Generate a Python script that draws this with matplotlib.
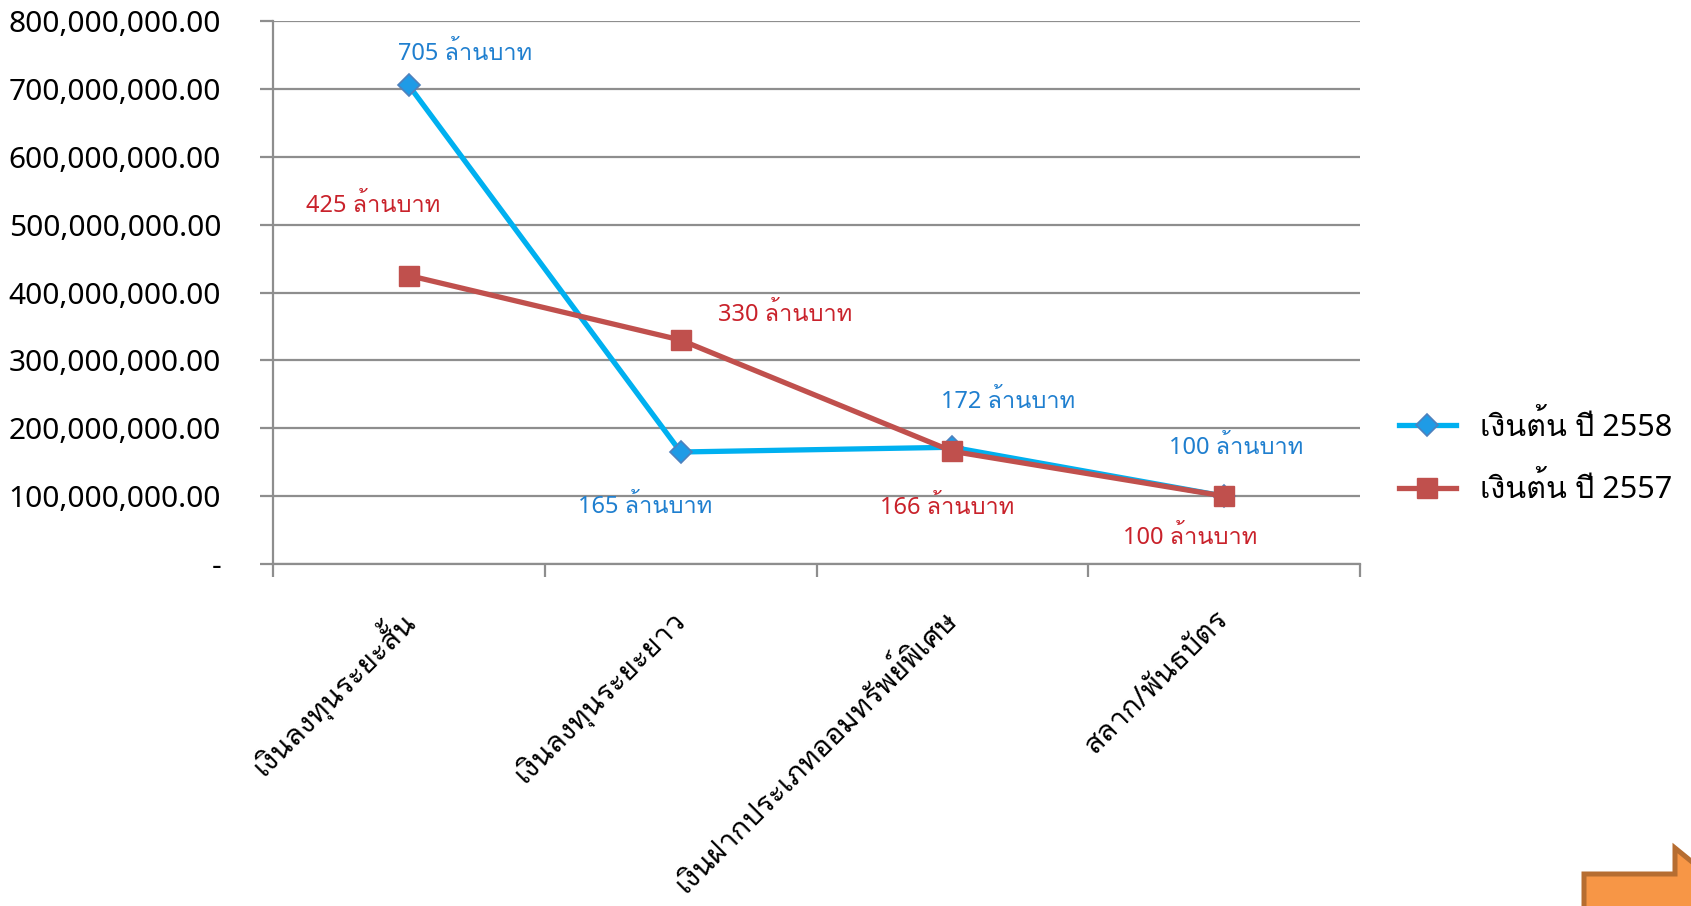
import matplotlib
matplotlib.use("Agg")
import matplotlib.pyplot as plt
from matplotlib import font_manager
from matplotlib.ft2font import FT2Font
from matplotlib.patches import Polygon
from matplotlib.ticker import FuncFormatter

# data (baht)
categories = ["เงินลงทุนระยะสั้น", "เงินลงทุนระยะยาว",
              "เงินฝากประเภทออมทรัพย์พิเศษ", "สลาก/พันธบัตร"]
values_2558 = [705e6, 165e6, 172e6, 100e6]
values_2557 = [425e6, 330e6, 166e6, 100e6]
labels_2558 = ["705 ล้านบาท", "165 ล้านบาท", "172 ล้านบาท", "100 ล้านบาท"]
labels_2557 = ["425 ล้านบาท", "330 ล้านบาท", "166 ล้านบาท", "100 ล้านบาท"]
series_names = ["เงินต้น ปี 2558", "เงินต้น ปี 2557"]

# find a font that has Thai glyphs
thai_font = None
for f in font_manager.fontManager.ttflist:
    try:
        cmap = FT2Font(f.fname).get_charmap()
    except Exception:
        continue
    if 0x0E07 in cmap and 0x0E19 in cmap and 0x0E49 in cmap:
        thai_font = f.name
        break
fam = ["Noto Sans", thai_font, "DejaVu Sans"] if thai_font else ["Noto Sans", "DejaVu Sans"]
plt.rcParams["font.family"] = fam

W, H = 1691, 906
fig = plt.figure(figsize=(W / 100, H / 100), dpi=100)
ax = fig.add_axes([273 / W, 1 - 564 / H, (1360 - 273) / W, (564 - 21) / H])

x = list(range(len(categories)))
blue, red = "#00B0F0", "#C0504D"
ax.plot(x, values_2558, color=blue, lw=3.8, marker="D", ms=11.5,
        mfc="#1F9BE6", mec="#4F81BD", mew=1.2, label=series_names[0], zorder=3)
ax.plot(x, values_2557, color=red, lw=3.8, marker="s", ms=14.5,
        mfc=red, mec=red, label=series_names[1], zorder=3)

# data labels: offsets in pixels (dx right, dy down) -> points
off_2558 = [(56, -31), (-35, 55), (56, -45), (12, -48)]
off_2557 = [(-36, -70), (105, -25), (-5, 57), (-34, 42)]
for xi, v, t, (dx, dy) in zip(x, values_2558, labels_2558, off_2558):
    ax.annotate(t, (xi, v), xytext=(dx * 0.72, -dy * 0.72), textcoords="offset points",
                ha="center", va="center", fontsize=17, color="#1F7FCF")
for xi, v, t, (dx, dy) in zip(x, values_2557, labels_2557, off_2557):
    ax.annotate(t, (xi, v), xytext=(dx * 0.72, -dy * 0.72), textcoords="offset points",
                ha="center", va="center", fontsize=17, color="#C9222B")

ax.set_xlim(-0.5, len(categories) - 0.5)
ax.set_ylim(0, 800e6)
ax.set_yticks([i * 100e6 for i in range(9)])
ax.yaxis.set_major_formatter(FuncFormatter(lambda v, p: "-" if v == 0 else f"{v:,.2f}"))
ax.grid(axis="y", color="#8E8E8E", lw=1.6)
ax.set_axisbelow(True)

ax.set_xticks([i - 0.5 for i in range(len(categories) + 1)])
ax.set_xticklabels([])
ax.set_xticks(x, minor=True)
ax.set_xticklabels(categories, minor=True, rotation=45, ha="right", va="center",
                   rotation_mode="anchor", fontsize=21)
ax.tick_params(axis="x", which="minor", length=0, pad=37)
ax.tick_params(axis="x", which="major", length=9.4, width=1.6, color="#8E8E8E")
ax.tick_params(axis="y", length=9.4, width=1.6, color="#8E8E8E", labelsize=21.5, pad=28)
for s in ["top", "right"]:
    ax.spines[s].set_visible(False)
for s in ["left", "bottom"]:
    ax.spines[s].set_color("#8E8E8E")
    ax.spines[s].set_linewidth(1.6)

fig.legend(loc="center left", bbox_to_anchor=(1399 / W, 1 - 458 / H),
           frameon=False, fontsize=22, handlelength=1.85, labelspacing=1.0,
           handletextpad=0.8, borderpad=0, borderaxespad=0)

# orange callout arrow corner (bottom right)
arrow = Polygon([(1584 / W, -0.05), (1584 / W, 1 - 874 / H),
                 (1675 / W, 1 - 874 / H), (1675 / W, 1 - 848 / H),
                 (1.05, 1 - 930 / H), (1.05, -0.05)],
                closed=True, transform=fig.transFigure, fc="#F79646",
                ec="#B66D31", lw=3.6, clip_on=False)
fig.patches.append(arrow)

fig.savefig("out.png", dpi=100)
